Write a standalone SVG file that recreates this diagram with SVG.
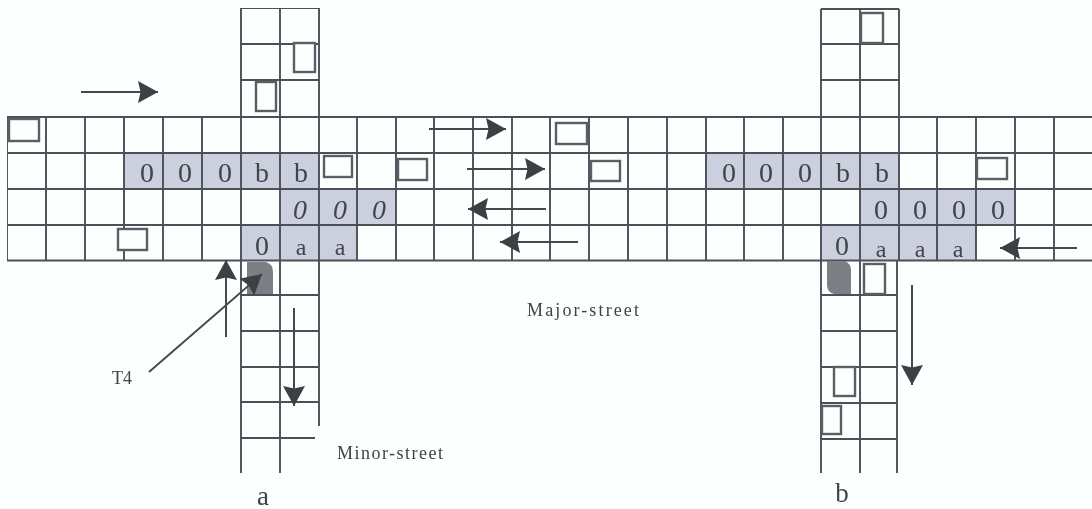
<svg xmlns="http://www.w3.org/2000/svg" width="1092" height="509" viewBox="0 0 1092 509">
<style>
.g{fill:none;stroke:#4b5058;stroke-width:1.9}
.car{fill:#fdfffe;stroke:#5a5f64;stroke-width:2.4}
.tone{fill:#ccd0de}
.stop{fill:#7b7f84}
.ar{fill:none;stroke:#454a50;stroke-width:2}
text{font-family:"Liberation Serif","Times New Roman",serif;fill:#3f4449}
.c{font-size:28px;text-anchor:middle}
.d{font-size:24px;text-anchor:middle}
.l{font-size:18px}
.s{font-size:27px;text-anchor:middle}
</style>
<defs>
<marker id="h" markerUnits="userSpaceOnUse" markerWidth="24" markerHeight="26" refX="21" refY="12" orient="auto"><path d="M1,1 L21,12 L1,23 L3.5,12 Z" fill="#3a3f45"/></marker>
<filter id="soft" x="0" y="0" width="100%" height="100%"><feGaussianBlur stdDeviation="0.55"/></filter>
</defs>
<rect width="1092" height="509" fill="#fbfffe"/>
<g filter="url(#soft)">
<g id="shading" class="tone">
<rect x="124" y="153" width="195" height="36"/>
<rect x="280" y="189" width="116" height="36"/>
<rect x="241" y="225" width="116" height="35"/>
<rect x="706" y="153" width="193" height="36"/>
<rect x="860" y="189" width="155" height="36"/>
<rect x="821" y="225" width="155" height="36"/>
</g>
<g id="grid">
<path class="g" d="M7,117H1092M7,153H1092M7,189H1092M7,225H1092M7,260.500H1092"/>
<path class="g" d="M7,117V260M46,117V260M85,117V260M124,117V260M163,117V260M202,117V260M357,117V260M396,117V260M434,117V260M473,117V260M512,117V260M550,117V260M589,117V260M628,117V260M667,117V260M706,117V260M744,117V260M783,117V260M937,117V260M976,117V260M1015,117V260M1054,117V260"/>
</g>
<g id="minor-a">
<path class="g" d="M241,8H319M241,44H319M241,80H319M241,8V473M280,8V473M319,8V426M241,295H318M241,331H318M241,367H318M241,402H318M241,438H315"/>
</g>
<g id="minor-b">
<path class="g" d="M821,9H899M821,44H899M821,80H899M821,9V473M860,9V473M899,9V261M897,261V473M821,295H897M821,331H897M821,367H897M821,403H897M821,439H897"/>
</g>
<g id="vehicles">
<rect class="car" x="9" y="119" width="30" height="22"/>
<rect class="car" x="294" y="43" width="21" height="29"/>
<rect class="car" x="256" y="82" width="20" height="29"/>
<rect class="car" x="324" y="156" width="28" height="21"/>
<rect class="car" x="398" y="159" width="29" height="21"/>
<rect class="car" x="118" y="229" width="29" height="21"/>
<rect class="car" x="556" y="123" width="31" height="21"/>
<rect class="car" x="591" y="161" width="29" height="20"/>
<rect class="car" x="861" y="13" width="22" height="30"/>
<rect class="car" x="977" y="158" width="30" height="21"/>
<rect class="car" x="864" y="264" width="21" height="30"/>
<rect class="car" x="834" y="367" width="21" height="29"/>
<rect class="car" x="822" y="406" width="19" height="28"/>
<path class="stop" d="M247,262H266Q273,264 273,272V294H247Z"/>
<path class="stop" d="M827,261H845Q851,264 851,270V294H834Q827,292 827,285Z"/>
</g>
<g id="connectors">
<path class="ar" marker-end="url(#h)" d="M81,92H158"/>
<path class="ar" marker-end="url(#h)" d="M429,129H506"/>
<path class="ar" marker-end="url(#h)" d="M467,169H545"/>
<path class="ar" marker-end="url(#h)" d="M546,209H468"/>
<path class="ar" marker-end="url(#h)" d="M578,242H500"/>
<path class="ar" marker-end="url(#h)" d="M1077,248H1000"/>
<path class="ar" marker-end="url(#h)" d="M226,337V260"/>
<path class="ar" marker-end="url(#h)" d="M294,308V406"/>
<path class="ar" marker-end="url(#h)" d="M912,285V385"/>
<path class="ar" marker-end="url(#h)" d="M149,372L262,274"/>
</g>
<g id="labels">
<text class="c" x="147" y="182">0</text><text class="c" x="185" y="182">0</text><text class="c" x="225" y="182">0</text><text class="c" x="262" y="182">b</text><text class="c" x="301" y="182">b</text>
<text class="c" x="300" y="219" font-style="italic">0</text><text class="c" x="340" y="219" font-style="italic">0</text><text class="c" x="379" y="219" font-style="italic">0</text>
<text class="c" x="262" y="255">0</text><text class="d" x="301" y="255">a</text><text class="d" x="340" y="255">a</text>
<text class="c" x="729" y="182">0</text><text class="c" x="766" y="182">0</text><text class="c" x="805" y="182">0</text><text class="c" x="843" y="182">b</text><text class="c" x="882" y="182">b</text>
<text class="c" x="881" y="219">0</text><text class="c" x="920" y="219">0</text><text class="c" x="959" y="219">0</text><text class="c" x="998" y="219">0</text>
<text class="c" x="842" y="255">0</text><text class="d" x="881" y="257">a</text><text class="d" x="920" y="257">a</text><text class="d" x="958" y="257">a</text>
<text class="l" x="112" y="384">T4</text>
<text class="l" x="337" y="459" textLength="106">Minor-street</text>
<text class="l" x="527" y="316" textLength="112">Major-street</text>
<text class="s" x="263" y="505">a</text>
<text class="s" x="842" y="502">b</text>
</g>
</g>
</svg>
